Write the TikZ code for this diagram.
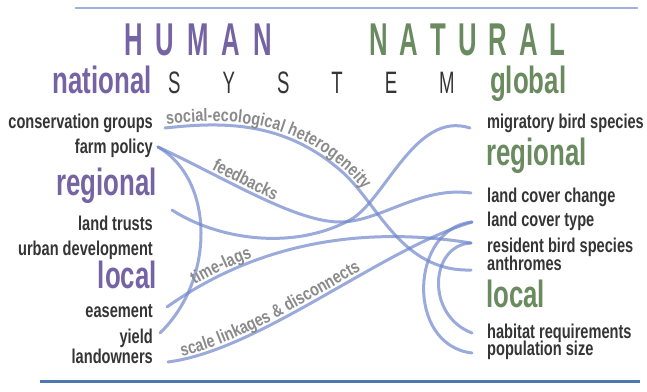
\documentclass[tikz,border=0pt]{standalone}
\usepackage{fontspec}
\usepackage{tikz}
\usetikzlibrary{decorations.text}
\newfontfamily\condfont[FakeStretch=0.73]{Liberation Sans}
\newfontfamily\levelfont[FakeStretch=0.68]{Liberation Sans}
\newfontfamily\headfont[FakeStretch=0.56]{Liberation Sans}
\newfontfamily\systemfont[FakeStretch=0.6]{Liberation Sans}
\newfontfamily\linkfont[FakeStretch=0.8]{Liberation Sans}
\definecolor{HumanPurple}{HTML}{7563A3}
\definecolor{NaturalGreen}{HTML}{6A8A5F}
\definecolor{ItemGray}{HTML}{353535}
\definecolor{LabelGray}{HTML}{8A8A8A}
\definecolor{LinkBlue}{HTML}{6F86CC}
\definecolor{RuleLight}{HTML}{A3B1DF}
\definecolor{RuleDark}{HTML}{4E78B3}
% spread the letters of a word apart
\newcommand\spreadword[2]{\def\spreadsep{\kern#1}\spreadloop#2\relax}
\def\spreadloop#1#2{#1\ifx\relax#2\else\spreadsep\expandafter\spreadloop\fi#2}
\tikzset{
  % Text styles
  heading/.style={font=\headfont\bfseries\fontsize{46}{46}\selectfont, inner sep=0pt, anchor=base west},
  humanlevel/.style={font=\levelfont\bfseries\fontsize{38}{38}\selectfont, text=HumanPurple, inner sep=0pt, anchor=base east},
  naturallevel/.style={font=\levelfont\bfseries\fontsize{38}{38}\selectfont, text=NaturalGreen, inner sep=0pt, anchor=base west},
  humanitem/.style={font=\condfont\bfseries\fontsize{20}{20}\selectfont, text=ItemGray, inner sep=0pt, anchor=base east},
  naturalitem/.style={font=\condfont\bfseries\fontsize{20}{20}\selectfont, text=ItemGray, inner sep=0pt, anchor=base west},
  % Line styles
  link/.style={draw=LinkBlue, draw opacity=0.7, line width=3pt, line cap=round},
  linklabel/.style 2 args={postaction={decorate, decoration={text along path, text={|\linkfont\bfseries\fontsize{18}{18}\selectfont\color{LabelGray}|#2}, raise=3.5pt, text align={left indent=#1}}}},
  toprule/.style={draw=RuleLight, line width=2pt},
  bottomrule/.style={draw=RuleDark, line width=3pt}
}
\begin{document}
\begin{tikzpicture}[x=1pt, y=-1pt]
  \useasboundingbox (0,0) rectangle (647,391);
  \draw[toprule] (75,8) -- (638,8);
  \draw[bottomrule] (40,381) -- (640,381);

  % Header
  \node[heading, text=HumanPurple] (human) at (124,55) {\spreadword{13pt}{HUMAN}};
  \node[heading, text=NaturalGreen] (natural) at (369,55) {\spreadword{12pt}{NATURAL}};
  \node[humanlevel] (national) at (152,93) {national};
  \node[heading, font=\systemfont\fontsize{31}{31}\selectfont, text=ItemGray] (system) at (168,93) {\spreadword{42pt}{SYSTEM}};
  \node[naturallevel] (global) at (490,93) {global};

  % Human side
  \node[humanitem] (cons) at (153,128) {conservation groups};
  \node[humanitem] (farm) at (153,153) {farm policy};
  \node[humanlevel] (hreg) at (157,195) {regional};
  \node[humanitem] (trusts) at (153,230) {land trusts};
  \node[humanitem] (urban) at (153,255) {urban development};
  \node[humanlevel] (hloc) at (157,288) {local};
  \node[humanitem] (ease) at (153,317) {easement};
  \node[humanitem] (yield) at (153,343) {yield};
  \node[humanitem] (owners) at (153,363) {landowners};

  % Natural side
  \node[naturalitem] (migr) at (487,128) {migratory bird species};
  \node[naturallevel] (nreg) at (486,165) {regional};
  \node[naturalitem] (lcchange) at (487,202) {land cover change};
  \node[naturalitem] (lctype) at (487,226) {land cover type};
  \node[naturalitem] (resid) at (487,252) {resident bird species};
  \node[naturalitem] (anth) at (487,270) {anthromes};
  \node[naturallevel] (nloc) at (486,307) {local};
  \node[naturalitem] (habit) at (487,338) {habitat requirements};
  \node[naturalitem] (popul) at (487,355) {population size};

  % Links
  \draw[link, linklabel={2pt}{social-ecological heterogeneity}]
    ([xshift=12pt]cons.base east) .. controls (220,122) and (282,120) .. (340,170)
    .. controls (378,202) and (400,272) .. ([xshift=-16pt]anth.base west);
  \draw[link, linklabel={58pt}{feedbacks}]
    ([xshift=5pt,yshift=6pt]farm.base east) .. controls (225,178) and (295,222) .. (340,222)
    .. controls (380,222) and (420,186) .. ([xshift=-16pt,yshift=9pt]lcchange.base west);
  \draw[link] ([xshift=5pt,yshift=6pt]farm.base east) .. controls (215,180) and (215,280) .. ([xshift=7pt,yshift=10pt]yield.base east);
  \draw[link] ([xshift=19pt,yshift=20pt]trusts.base east) .. controls (215,238) and (290,252) .. (350,220)
    .. controls (385,201) and (415,110) .. ([xshift=-17pt]migr.base west);
  \draw[link, linklabel={35pt}{time-lags}]
    ([xshift=14pt,yshift=10pt]ease.base east) .. controls (240,255) and (340,222) .. ([xshift=-16pt,yshift=9pt]resid.base west);
  \draw[link, linklabel={15pt}{scale linkages {\&} disconnects}]
    ([xshift=15pt,yshift=1pt]owners.base east) .. controls (260,350) and (380,250) .. ([xshift=-15pt,yshift=4pt]lctype.base west);
  \draw[link] ([xshift=-15pt,yshift=4pt]lctype.base west) .. controls (410,228) and (405,345) .. ([xshift=-15pt,yshift=2pt]popul.base west);
  \draw[link] ([xshift=-16pt,yshift=9pt]resid.base west) .. controls (430,245) and (425,315) .. ([xshift=-15pt,yshift=5pt]habit.base west);
\end{tikzpicture}
\end{document}
